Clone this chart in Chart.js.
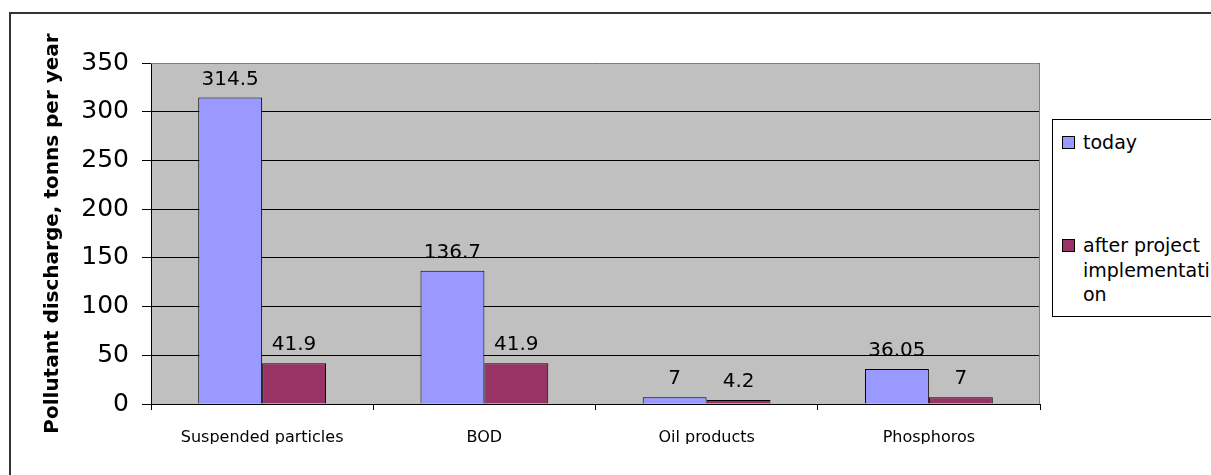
<!DOCTYPE html>
<html>
<head>
<meta charset="utf-8">
<script src="https://cdn.jsdelivr.net/npm/chart.js@4"></script>
<style>
  body { margin: 0; background: #fff; overflow: hidden; }
  #wrap { position: relative; width: 1211px; height: 475px; overflow: hidden; }
  #frame { position: absolute; left: 9px; top: 12px; width: 1300px; height: 600px;
           border-top: 2px solid #333; border-left: 2px solid #333; }
  #legend { position: absolute; left: 1052px; top: 119px; width: 200px; height: 196px;
            border: 1px solid #000; background: #fff; font-family: "DejaVu Sans"; font-size: 19px; color: #000; }
  .item { position: absolute; left: 9px; display: flex; align-items: flex-start; }
  .box { width: 11px; height: 11px; border: 1px solid #000; margin-top: 6px; margin-right: 8px; flex: none; }
  .txt { width: 138px; line-height: 24.5px; overflow-wrap: anywhere; }
  canvas { position: absolute; left: 0; top: 0; }
</style>
</head>
<body>
<div id="wrap">
  <div id="frame"></div>
  <canvas id="myChart" width="1211" height="475"></canvas>
  <div id="legend"></div>
</div>
<script>
const categories = ['Suspended particles', 'BOD', 'Oil products', 'Phosphoros'];
const todayValues = [314.5, 136.7, 7, 36.05];
const afterValues = [41.9, 41.9, 4.2, 7];
const seriesNames = ['today', 'after project implementation'];
const seriesColors = ['#9999FF', '#993366'];

Chart.defaults.font.family = '"DejaVu Sans"';
Chart.defaults.color = '#000';

// gray plot background and its right/top edge
const plotBackground = {
  id: 'plotBackground',
  beforeDraw(chart) {
    const { ctx, chartArea: a } = chart;
    ctx.save();
    ctx.fillStyle = '#C0C0C0';
    ctx.fillRect(a.left, a.top, a.right - a.left, a.bottom - a.top);
    ctx.restore();
  },
  afterDraw(chart) {
    const { ctx, chartArea: a } = chart;
    ctx.save();
    ctx.strokeStyle = '#808080';
    ctx.lineWidth = 1;
    ctx.beginPath();
    ctx.moveTo(a.left, a.top + 0.5);
    ctx.lineTo(a.right - 0.5, a.top + 0.5);
    ctx.lineTo(a.right - 0.5, a.bottom);
    ctx.stroke();
    ctx.restore();
  }
};

// value labels above the bars
const valueLabels = {
  id: 'valueLabels',
  afterDatasetsDraw(chart) {
    const ctx = chart.ctx;
    ctx.save();
    ctx.font = '20px "DejaVu Sans"';
    ctx.fillStyle = '#000';
    ctx.textAlign = 'center';
    ctx.textBaseline = 'alphabetic';
    chart.data.datasets.forEach((ds, i) => {
      chart.getDatasetMeta(i).data.forEach((bar, j) => {
        ctx.fillText(String(ds.data[j]), bar.x, bar.y - 13);
      });
    });
    ctx.restore();
  }
};

const ctx = document.getElementById('myChart').getContext('2d');
const myChart = new Chart(ctx, {
  type: 'bar',
  data: {
    labels: categories,
    datasets: [
      { label: seriesNames[0], data: todayValues, backgroundColor: seriesColors[0] },
      { label: seriesNames[1], data: afterValues, backgroundColor: seriesColors[1] }
    ]
  },
  options: {
    responsive: false,
    animation: false,
    layout: { padding: { left: 37, top: 63, right: 171, bottom: 31 } },
    datasets: {
      bar: {
        categoryPercentage: 0.575,
        barPercentage: 1,
        borderColor: '#000',
        borderWidth: 1
      }
    },
    plugins: {
      legend: { display: false },
      tooltip: { enabled: false }
    },
    scales: {
      x: {
        grid: { display: true, drawOnChartArea: false, color: '#000', tickLength: 6, offset: true },
        border: { color: '#000' },
        ticks: { font: { size: 16 }, padding: 18, maxRotation: 0 },
        afterFit(scale) { scale.height = 40; }
      },
      y: {
        min: 0,
        max: 350,
        ticks: { stepSize: 50, font: { size: 25 }, padding: 13 },
        grid: { color: '#000', tickLength: 9 },
        border: { color: '#000' },
        title: {
          display: true,
          text: 'Pollutant discharge, tonns per year',
          font: { size: 20, weight: 'bold' },
          padding: { top: 4, bottom: 0 }
        },
        afterFit(scale) { scale.width = 114; }
      }
    }
  },
  plugins: [plotBackground, valueLabels]
});

// legend box built from the chart's datasets
const legendTops = [10, 113];
const legend = document.getElementById('legend');
myChart.data.datasets.forEach((ds, i) => {
  const item = document.createElement('div');
  item.className = 'item';
  item.style.top = legendTops[i] + 'px';
  item.innerHTML = '<div class="box" style="background:' + ds.backgroundColor + '"></div><div class="txt">' + ds.label + '</div>';
  legend.appendChild(item);
});
</script>
</body>
</html>
